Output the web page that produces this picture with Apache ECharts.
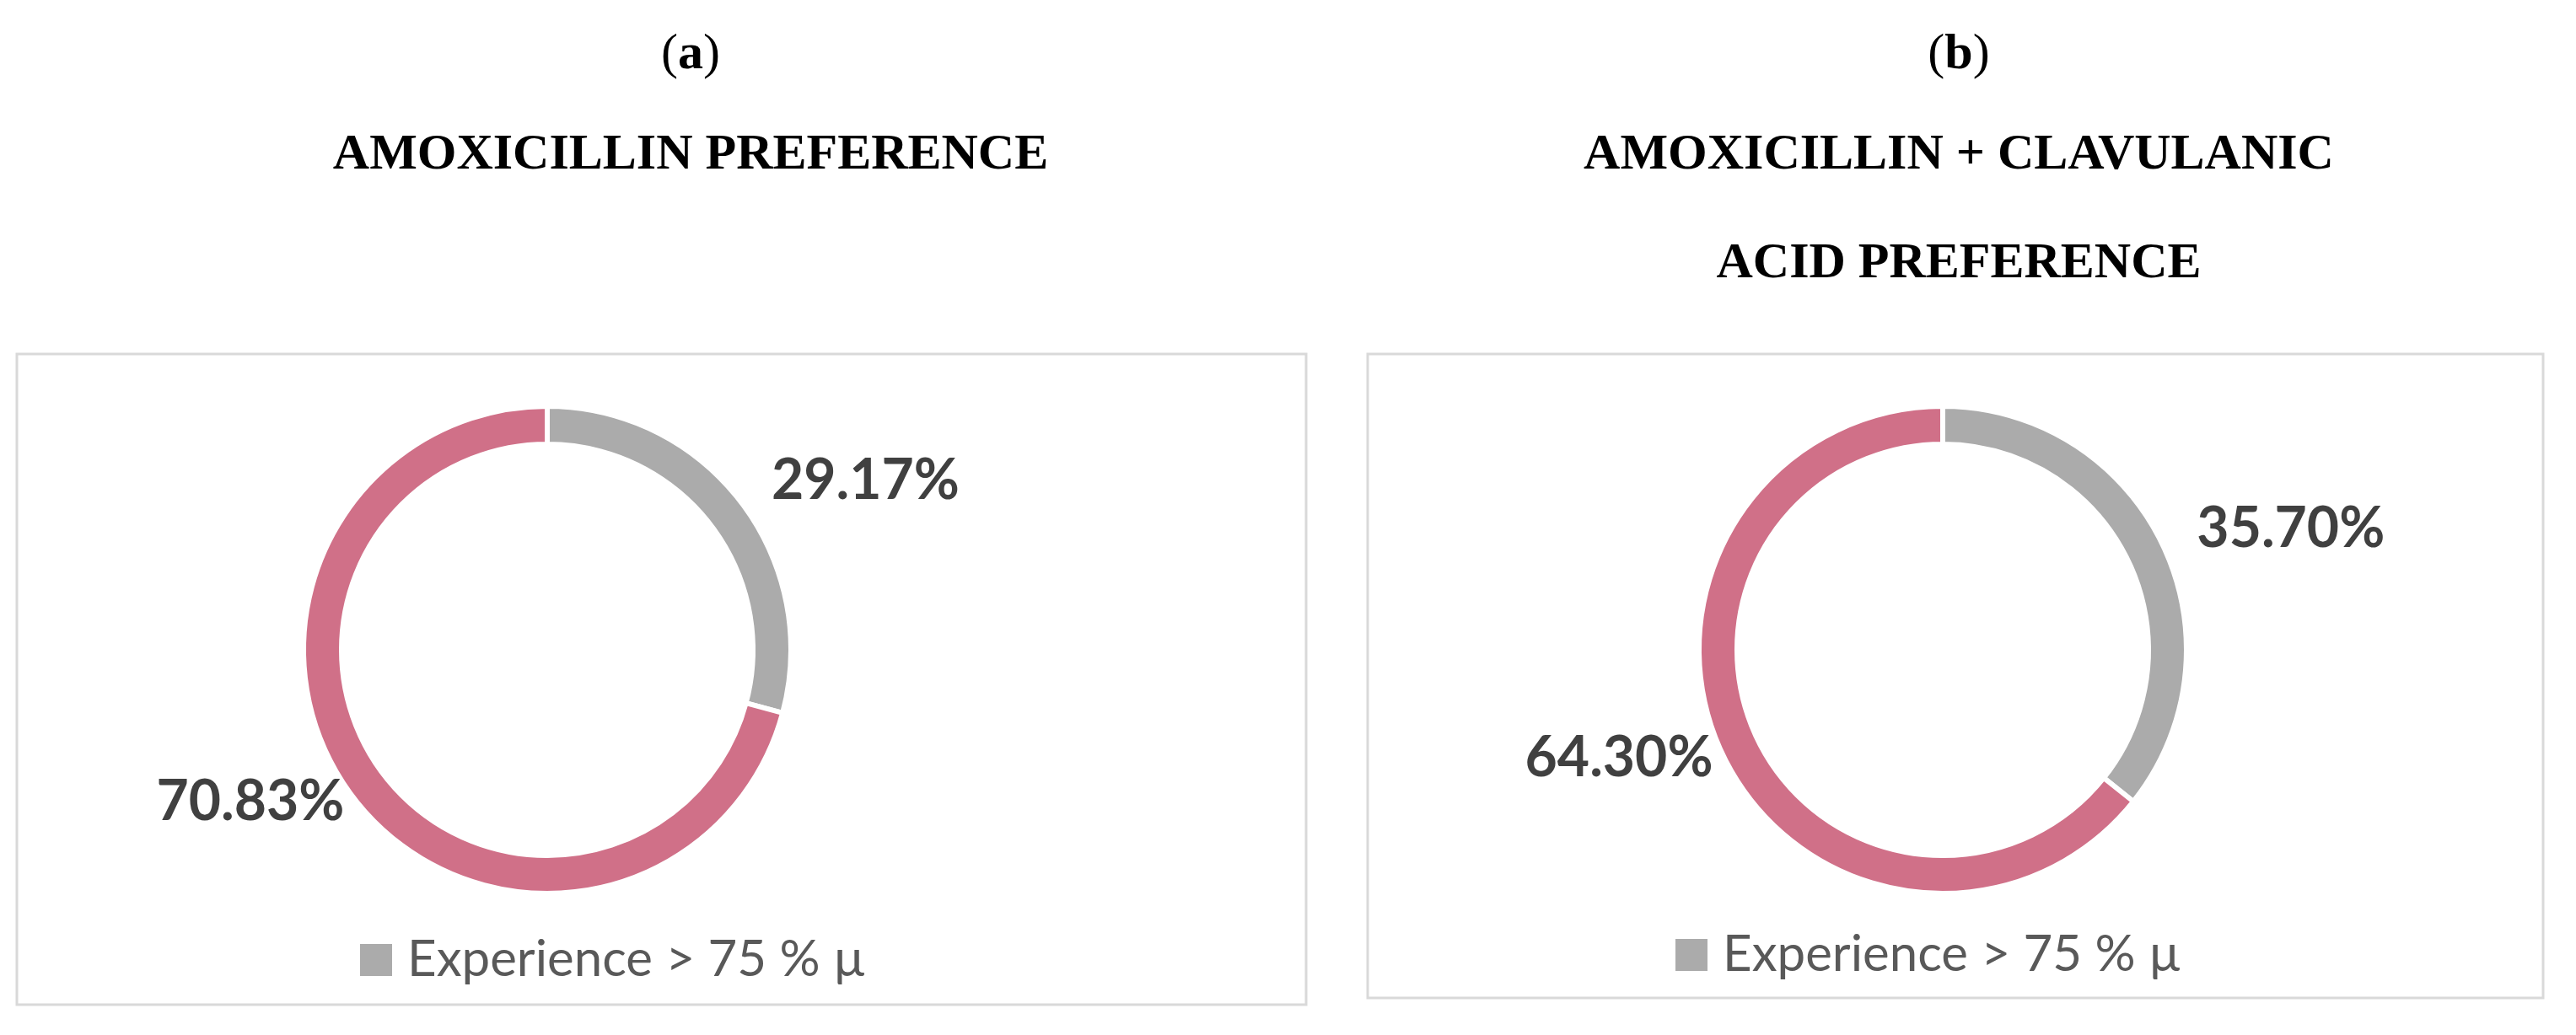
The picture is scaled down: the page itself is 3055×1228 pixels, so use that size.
<!DOCTYPE html>
<html>
<head>
<meta charset="utf-8">
<script src="https://cdn.jsdelivr.net/npm/echarts@6/dist/echarts.min.js"></script>
<style>
  html, body { margin: 0; padding: 0; background: #fff; }
  #chart { width: 3055px; height: 1228px; }
</style>
</head>
<body>
<div id="chart"></div>
<script>
// 数据
const categories = ['Experience > 75 % µ', 'Experience ≤ 75 %']
const valuesA = [29.17, 70.83]
const valuesB = [35.70, 64.30]
const panelTitles = ['AMOXICILLIN PREFERENCE', 'AMOXICILLIN + CLAVULANIC\nACID PREFERENCE']
const panelTags = ['a', 'b']
const colors = ['#ababab', '#d07088']

const myChart = echarts.init(document.querySelector('#chart'))

const makeSeries = (values, center) => ({
  type: 'pie',
  center: center,
  radius: [244, 289],
  startAngle: 90,
  clockwise: true,
  avoidLabelOverlap: false,
  itemStyle: { borderColor: '#fff', borderWidth: 6 },
  label: {
    show: true,
    position: 'outside',
    formatter: p => p.value.toFixed(2) + '%',
    fontFamily: 'Lato',
    fontWeight: 'bold',
    fontSize: 66,
    color: '#404040'
  },
  labelLine: { show: false, length: 40, length2: 0 },
  emphasis: { disabled: true },
  data: categories.map((name, i) => ({
    name,
    value: values[i],
    // 粉色标签离圆环更近
    labelLine: i === 1 ? { show: false, length: 8, length2: 0 } : undefined
  }))
})

const tagStyle = {
  fontFamily: 'Liberation Serif', fontSize: 60, fontWeight: 'normal', color: '#000',
  rich: { b: { fontFamily: 'Liberation Serif', fontSize: 60, fontWeight: 'bold' } }
}
const headStyle = { fontFamily: 'Liberation Serif', fontSize: 60, fontWeight: 'bold', color: '#000', lineHeight: 129 }

const option = {
  color: colors,
  animation: false,
  title: [
    { text: '({b|' + panelTags[0] + '})', left: 814, top: 30, textAlign: 'center', textStyle: tagStyle },
    { text: panelTitles[0], left: 814, top: 115, textAlign: 'center', textStyle: headStyle },
    { text: '({b|' + panelTags[1] + '})', left: 2318, top: 30, textAlign: 'center', textStyle: tagStyle },
    { text: panelTitles[1], left: 2318, top: 115, textAlign: 'center', textStyle: headStyle }
  ],
  legend: [
    { data: [categories[0]], top: 1104, left: 420, itemWidth: 40, itemHeight: 40, icon: 'rect',
      textStyle: { fontFamily: 'Lato', fontSize: 60, color: '#595959', padding: [0, 0, 0, 12] } },
    { data: [categories[0]], top: 1098, left: 1980, itemWidth: 40, itemHeight: 40, icon: 'rect',
      textStyle: { fontFamily: 'Lato', fontSize: 60, color: '#595959', padding: [0, 0, 0, 12] } }
  ],
  graphic: [
    { type: 'rect', shape: { x: 20, y: 420, width: 1529, height: 772 }, style: { fill: 'none', stroke: '#d9d9d9', lineWidth: 3 } },
    { type: 'rect', shape: { x: 1622, y: 420, width: 1394, height: 764 }, style: { fill: 'none', stroke: '#d9d9d9', lineWidth: 3 } }
  ],
  series: [
    makeSeries(valuesA, [649, 771]),
    makeSeries(valuesB, [2304, 771])
  ]
}
myChart.setOption(option)
</script>
</body>
</html>
